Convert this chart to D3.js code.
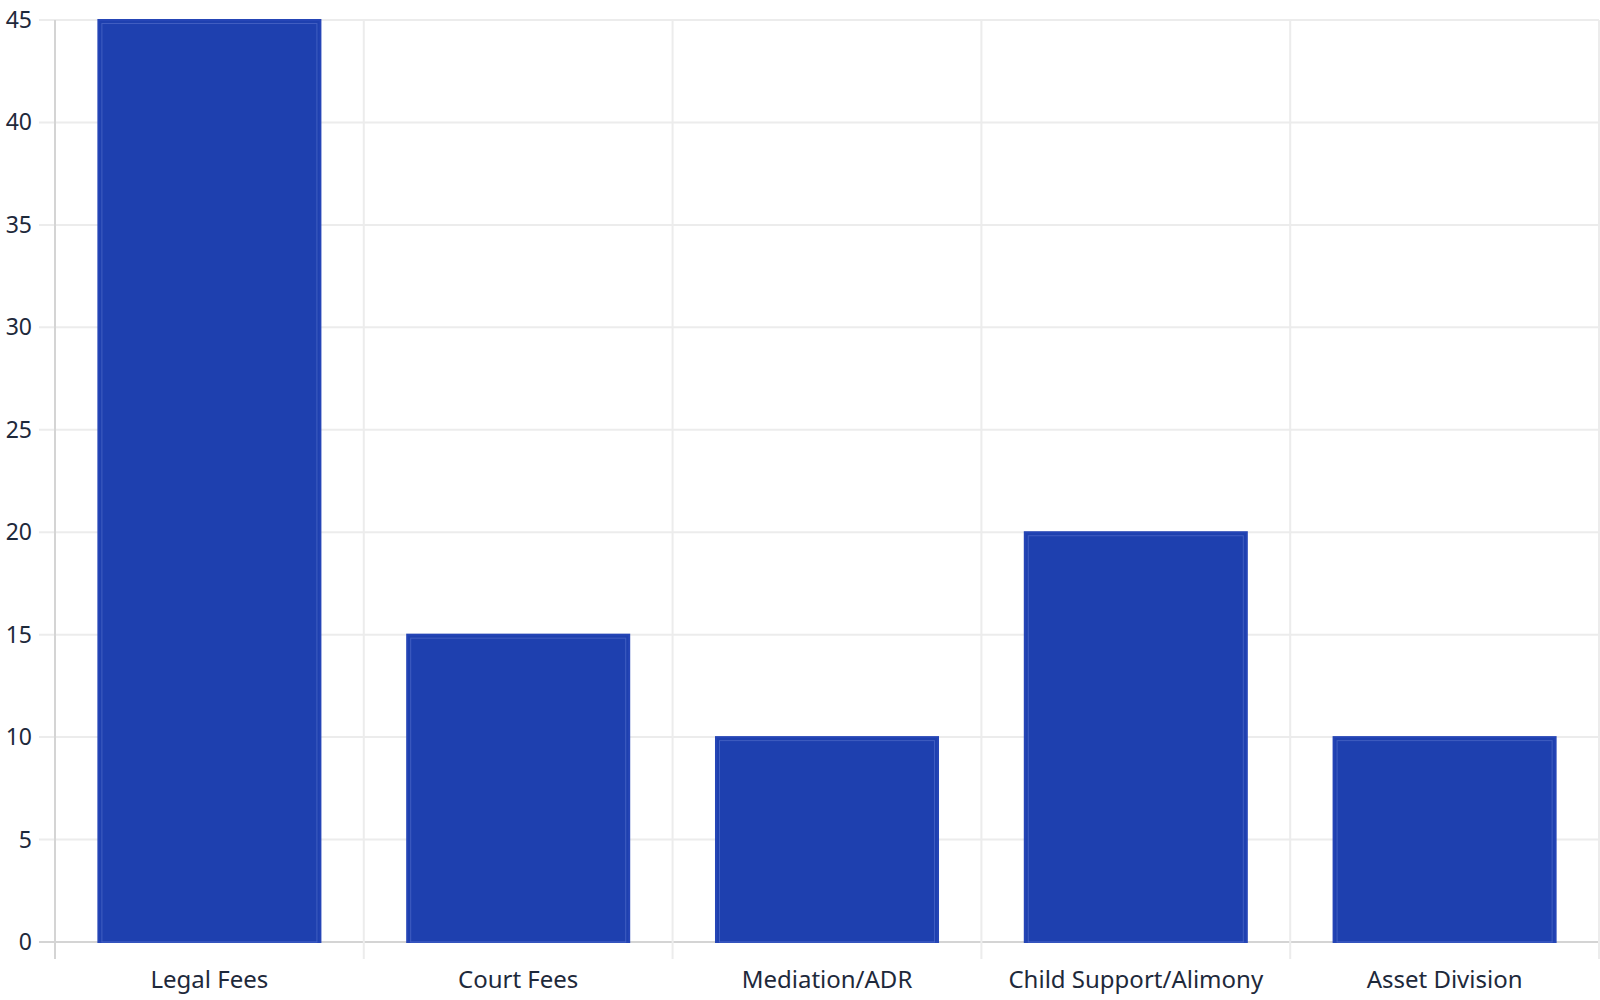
<!DOCTYPE html>
<html>
<head>
<meta charset="utf-8">
<script src="https://cdn.jsdelivr.net/npm/d3@7"></script>
<style>
  body { margin: 0; background: #fff; }
  svg { display: block; }
  text { font-family: "Noto Sans", "Open Sans", sans-serif; fill: #1e293b; }
</style>
</head>
<body>
<div id="chart"></div>
<script>
// data
var categories = ["Legal Fees", "Court Fees", "Mediation/ADR", "Child Support/Alimony", "Asset Division"];
var values = [45, 15, 10, 20, 10];
var yTicks = [0, 5, 10, 15, 20, 25, 30, 35, 40, 45];

var W = 1600, H = 1000;
var plotL = 55, plotR = 1599, plotT = 20, plotB = 942;

var svg = d3.select("#chart").append("svg").attr("width", W).attr("height", H);

var x = d3.scaleBand().domain(categories).range([plotL, plotR]).padding(0);
var y = d3.scaleLinear().domain([0, 45]).range([plotB, plotT]);

var barW = x.bandwidth() * 0.719;

// horizontal grid + tick marks
svg.append("g").selectAll("line")
    .data(yTicks)
    .enter()
    .append("line")
    .attr("x1", plotL - 16)
    .attr("x2", plotR)
    .attr("y1", function(d){ return y(d); })
    .attr("y2", function(d){ return y(d); })
    .attr("stroke", function(d){ return d === 0 ? "#d4d4d4" : "#ececec"; })
    .attr("stroke-width", 2);

// vertical grid at band edges
var edges = categories.map(function(c){ return x(c); }).concat([plotR]);
svg.append("g").selectAll("line")
    .data(edges)
    .enter()
    .append("line")
    .attr("x1", function(d){ return d; })
    .attr("x2", function(d){ return d; })
    .attr("y1", plotT)
    .attr("y2", plotB + 17)
    .attr("stroke", function(d, i){ return i === 0 ? "#d4d4d4" : "#ececec"; })
    .attr("stroke-width", 2);

// bars
var bars = svg.append("g").selectAll("g")
    .data(values)
    .enter()
    .append("g");

bars.append("rect")
    .attr("x", function(d, i){ return x(categories[i]) + (x.bandwidth() - barW) / 2; })
    .attr("y", function(d){ return y(d); })
    .attr("width", barW)
    .attr("height", function(d){ return plotB - y(d); })
    .attr("fill", "#1e40af")
    .attr("stroke", "#2545b6")
    .attr("stroke-width", 2);

bars.append("rect")
    .attr("x", function(d, i){ return x(categories[i]) + (x.bandwidth() - barW) / 2 + 3.5; })
    .attr("y", function(d){ return y(d) + 3.5; })
    .attr("width", barW - 7)
    .attr("height", function(d){ return plotB - y(d) - 3.5; })
    .attr("fill", "none")
    .attr("stroke", "rgba(130,150,225,0.35)")
    .attr("stroke-width", 1);

// y labels
svg.append("g").selectAll("text")
    .data(yTicks)
    .enter()
    .append("text")
    .attr("x", 32)
    .attr("y", function(d){ return y(d); })
    .attr("dy", "0.35em")
    .attr("text-anchor", "end")
    .style("font-size", "23px")
    .text(function(d){ return d; });

// x labels
svg.append("g").selectAll("text")
    .data(categories)
    .enter()
    .append("text")
    .attr("x", function(d){ return x(d) + x.bandwidth() / 2; })
    .attr("y", 988)
    .attr("text-anchor", "middle")
    .style("font-size", "24px")
    .text(function(d){ return d; });
</script>
</body>
</html>
